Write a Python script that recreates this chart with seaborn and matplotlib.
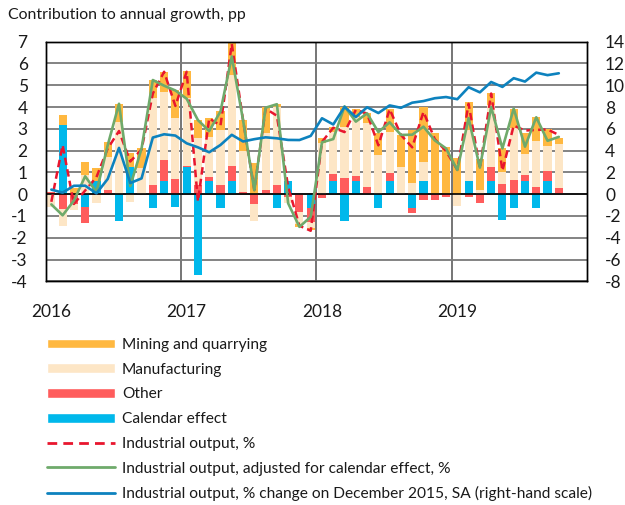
import numpy as np
import pandas as pd
import matplotlib
matplotlib.use("Agg")
import matplotlib.pyplot as plt
import seaborn as sns
from matplotlib.patches import Patch
from matplotlib.lines import Line2D

# ---------------- data ----------------
years = ["2016", "2017", "2018", "2019"]
months = pd.date_range("2016-01-01", periods=46, freq="MS")

calendar = [0, 3.17, 0, -0.6, 0.62, 0, -1.24, 1.26, 0, -0.63, 0.61, -0.6,
            1.26, -3.72, 0.61, -0.63, 0.61, 0, 0, 0, -0.63, 0.62, 0, -0.65,
            0, 0.62, -1.23, 0.62, 0, -0.62, 0.62, 0, -0.62, 0.62, 0, 0,
            0, 0.62, 0, 0.62, -1.18, -0.62, 0.62, -0.62, 0.62, 0]
other = [0.08, -0.7, -0.45, -0.73, -0.05, 0.19, 0, 0, 0, 0.41, 0.95, 0.7,
         0.05, 0.41, 0.19, 0.41, 0.68, 0.1, -0.45, 0.18, 0.41, -0.12, -0.8, -0.62,
         -0.16, 0.29, 0.72, 0.21, 0.35, 0, 0.34, 0, -0.23, -0.27, -0.27, -0.15,
         0, -0.12, -0.42, 0.64, 0.45, 0.65, 0.26, 0.35, 0.45, 0.3]
manufacturing = [-0.58, -0.75, -0.28, 0.9, -0.35, 1.5, 3.32, -0.35, 1.2, 3.99, 3.14, 2.78,
                 3.11, 2.15, 1.83, 2.53, 4.18, 1.89, -0.77, 2.61, 3.59, -0.3, -0.55, -0.3,
                 2.33, 1.96, 2.38, 2.7, 2.9, 1.81, 1.91, 1.23, 0.53, 0.87, 0, 0,
                 -0.54, 2.33, 0.19, 2.84, 0.58, 2.37, 0.96, 2.1, 1.15, 2.0]
mining = [0, 0.47, 0.27, 0.6, 0.57, 0.7, 0.81, 0.65, 0.9, 0.84, 0.92, 1.3,
          1.22, 0.85, 0.85, 0.87, 1.45, 1.41, 1.41, 1.22, 0.13, 0, -0.15, -0.08,
          0.26, 0.23, 0.9, 0.37, 0.49, 1.02, 1.03, 1.49, 2.42, 2.5, 2.8, 2.15,
          1.65, 1.27, 1.43, 0.53, 1.07, 0.89, 0.96, 1.08, 0.78, 0.3]
output = [-0.35, 2.25, -0.45, 0.17, 0.78, 2.1, 2.9, 1.5, 2.05, 4.62, 5.62, 4.05,
          5.62, -0.33, 3.48, 3.15, 6.9, 3.4, 0.19, 3.93, 3.6, 0.33, -1.45, -1.68,
          2.4, 3.05, 2.85, 3.87, 3.7, 2.24, 3.9, 2.72, 2.15, 3.78, 2.53, 1.98,
          1.12, 4.15, 1.18, 4.62, 1.08, 3.15, 2.92, 2.95, 2.97, 2.72]
output_adj = [-0.47, -0.97, -0.3, 0.82, 0.1, 2.25, 4.15, 0.37, 2.1, 5.24, 4.98, 4.76,
              4.38, 3.4, 2.9, 3.8, 6.32, 3.4, 0.18, 3.97, 4.13, -0.42, -1.5, -1.04,
              2.38, 2.53, 4.03, 3.33, 3.71, 2.85, 3.3, 2.72, 2.73, 3.1, 2.47, 2.1,
              1.11, 3.49, 1.22, 4.0, 2.1, 3.93, 2.18, 3.53, 2.45, 2.63]
output_index = [0.42, 0.14, 0.77, 0.78, 0.07, 1.4, 4.25, 1.02, 1.45, 5.2, 5.5, 5.38,
                4.67, 4.3, 3.85, 4.52, 5.45, 4.84, 5.05, 5.22, 5.13, 4.98, 4.97, 5.35,
                6.97, 6.4, 8.02, 7.08, 7.98, 7.45, 8.15, 7.93, 8.4, 8.55, 8.81, 8.92,
                8.72, 9.82, 9.35, 10.3, 9.85, 10.65, 10.34, 11.16, 10.93, 11.1]

labels = ["Mining and quarrying", "Manufacturing", "Other", "Calendar effect",
          "Industrial output, %",
          "Industrial output, adjusted for calendar effect, %",
          "Industrial output, % change on December 2015, SA (right-hand scale)"]

C_MIN, C_MAN, C_OTH, C_CAL = "#FFB840", "#FDE6C6", "#FF5C5C", "#00B8EB"
C_IO, C_ADJ, C_IDX = "#E8162E", "#6FAA6B", "#0D82BE"
TXT = "#1a1a1a"

# ---------------- style ----------------
sns.set_theme(style="white")
plt.rcParams["font.family"] = ["Lato", "DejaVu Sans"]
plt.rcParams["axes.unicode_minus"] = False

fig = plt.figure(figsize=(6.25, 5.05), dpi=100)
fig.patch.set_facecolor("white")
ax = fig.add_axes([45.7 / 625, 1 - 281.3 / 505, (587 - 45.7) / 625, (281.3 - 41.7) / 505])

df = pd.DataFrame({"month": months, "cal": calendar, "oth": other,
                   "man": manufacturing, "min": mining,
                   "io": output, "adj": output_adj, "idx": output_index})
df["pos"] = np.arange(len(df))

# stacked bars: calendar nearest zero, then other, manufacturing, mining
pos_base = np.zeros(len(df))
neg_base = np.zeros(len(df))
for col, color in [("cal", C_CAL), ("oth", C_OTH), ("man", C_MAN), ("min", C_MIN)]:
    v = df[col].to_numpy(float)
    bottom = np.where(v >= 0, pos_base, neg_base)
    sns.barplot(x=df["pos"], y=v, bottom=bottom, native_scale=True, width=0.72,
                color=color, saturation=1, errorbar=None, linewidth=0,
                ax=ax, zorder=2)
    pos_base += np.clip(v, 0, None)
    neg_base += np.clip(v, None, 0)

sns.lineplot(x=df["pos"], y=df["io"], ax=ax, color=C_IO, lw=1.8,
             linestyle=(0, (3, 1.7)), errorbar=None, zorder=5)
sns.lineplot(x=df["pos"], y=df["adj"], ax=ax, color=C_ADJ, lw=1.9,
             errorbar=None, zorder=6)
ax.axhline(0, color="black", lw=1.2, zorder=3)

ax2 = ax.twinx()
sns.lineplot(x=df["pos"], y=df["idx"], ax=ax2, color=C_IDX, lw=1.9,
             errorbar=None, zorder=6)

# ---------------- axes ----------------
ax.set_ylim(-4, 7)
ax2.set_ylim(-8, 14)
ax.set_yticks(range(-4, 8))
ax2.set_yticks(range(-8, 15, 2))
ax.set_xlim(-0.5, 47.5)
ax.set_xticks([12 * k for k in range(len(years))], years)
ax.set_xticks([12 * k - 0.5 for k in range(1, len(years))], minor=True)
ax.set_axisbelow(True)
ax.grid(axis="y", which="major", color="#7a7a7a", lw=1.3)
ax.grid(axis="x", which="minor", color="#505050", lw=1.1)
ax.grid(axis="x", which="major", visible=False)
ax2.grid(False)
for a in (ax, ax2):
    a.set_xlabel("")
    a.set_ylabel("")
    for s in a.spines.values():
        s.set_color("black")
        s.set_linewidth(1.0)
ax.tick_params(axis="y", length=0, pad=13, labelsize=12.5, colors=TXT)
ax.tick_params(axis="x", which="both", length=0, pad=16.5, labelsize=12.5, colors=TXT)
ax2.tick_params(axis="y", length=0, pad=13, labelsize=12.5, colors=TXT)

fig.text(8 / 625, 1 - 15 / 505, "Contribution to annual growth, pp",
         fontsize=11.4, va="center", ha="left", color=TXT)

# ---------------- legend ----------------
handles = [Patch(facecolor=C_MIN), Patch(facecolor=C_MAN), Patch(facecolor=C_OTH),
           Patch(facecolor=C_CAL),
           Line2D([], [], color=C_IO, lw=2, linestyle=(0, (3.5, 2.2))),
           Line2D([], [], color=C_ADJ, lw=2),
           Line2D([], [], color=C_IDX, lw=2)]
fig.legend(handles, labels, loc="upper left",
           bbox_to_anchor=(47 / 625, 1 - 338 / 505), frameon=False,
           borderaxespad=0, borderpad=0, fontsize=11.2, handlelength=4.37,
           handleheight=0.6, handletextpad=0.45, labelspacing=0.69,
           labelcolor=TXT)

fig.savefig("out.png", dpi=100)
